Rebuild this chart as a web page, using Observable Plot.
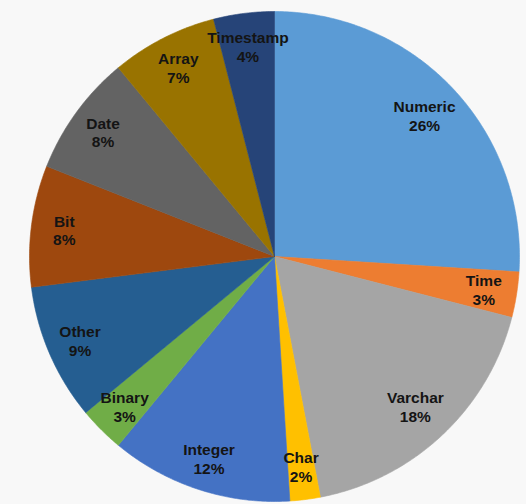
<!DOCTYPE html>
<html>
<head>
<meta charset="utf-8">
<script src="https://cdn.jsdelivr.net/npm/d3@7"></script>
<script src="https://cdn.jsdelivr.net/npm/@observablehq/plot@0.6"></script>
<style>
  html, body { margin: 0; padding: 0; background: #f8f8f8; }
  #chart { width: 526px; height: 504px; }
  #chart svg { display: block; }
</style>
</head>
<body>
<div id="chart"></div>
<script>
// Share of column data types, clockwise from 12 o'clock
const categories = ["Numeric", "Time", "Varchar", "Char", "Integer", "Binary", "Other", "Bit", "Date", "Array", "Timestamp"];
const shares = [26, 3, 18, 2, 12, 3, 9, 8, 8, 7, 4];
const colors = ["#5B9BD5", "#ED7D31", "#A5A5A5", "#FFC000", "#4472C4", "#70AD47", "#255E91", "#9E480E", "#636363", "#997300", "#264478"];

const rows = categories.map((name, i) => ({name, value: shares[i]}));

// Slice angles (radians, clockwise from the top)
const arcs = d3.pie().sort(null).value(d => d.value)(rows);

// Outline of every wedge on a unit circle: centre, then points along the rim
const outline = arcs.flatMap(a => {
  const steps = Math.max(2, Math.ceil((a.endAngle - a.startAngle) / 0.01));
  const pts = [{name: a.data.name, x: 0, y: 0}];
  for (let k = 0; k <= steps; k++) {
    const t = a.startAngle + (a.endAngle - a.startAngle) * k / steps;
    pts.push({name: a.data.name, x: Math.sin(t), y: Math.cos(t)});
  }
  pts.push({name: a.data.name, x: 0, y: 0});
  return pts;
});

// Label anchors at the middle angle of each wedge; wide slices sit a bit further in
const labels = arcs.map(a => {
  const m = (a.startAngle + a.endAngle) / 2;
  const r = a.data.value >= 15 ? 0.84 : 0.865;
  return {
    name: a.data.name,
    text: `${a.data.name}\n${a.data.value}%`,
    x: r * Math.sin(m),
    y: r * Math.cos(m)
  };
});

const chart = Plot.plot({
  width: 526,
  height: 504,
  margin: 0,
  style: {background: "transparent", fontFamily: "'Liberation Sans', Arial, sans-serif"},
  x: {domain: [-1, 1], range: [29, 519], axis: null},
  y: {domain: [-1, 1], range: [501, 11], axis: null},
  color: {domain: categories, range: colors},
  marks: [
    Plot.line(outline, {
      x: "x", y: "y", z: "name",
      fill: "name", stroke: "name", strokeWidth: 0.6,
      curve: "linear"
    }),
    Plot.text(labels, {
      x: "x", y: "y", text: "text",
      fontSize: 15.5, fontWeight: "bold", fill: "#141414",
      lineHeight: 1.22, textAnchor: "middle"
    })
  ]
});

document.getElementById("chart").append(chart);
</script>
</body>
</html>
